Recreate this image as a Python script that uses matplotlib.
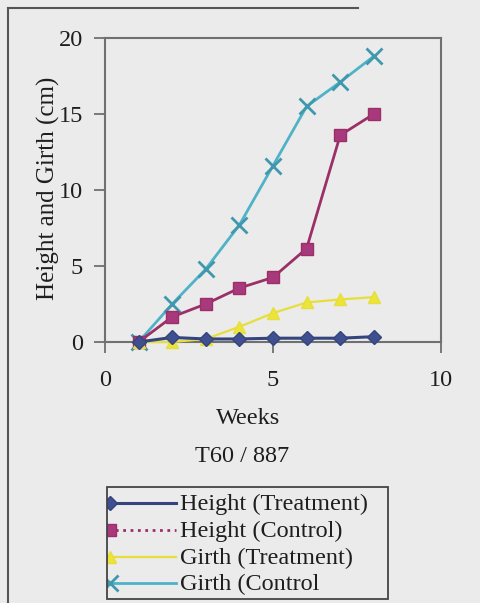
import matplotlib.pyplot as plt
from matplotlib.patches import Rectangle
from matplotlib.lines import Line2D

plt.rcParams['font.family'] = ['Liberation Serif', 'DejaVu Serif']

weeks = [1, 2, 3, 4, 5, 6, 7, 8]
height_treatment = [0, 0.3, 0.2, 0.2, 0.25, 0.25, 0.25, 0.35]
height_control = [0, 1.65, 2.5, 3.55, 4.25, 6.15, 13.6, 15.0]
girth_treatment = [0, 0, 0.2, 1.0, 1.9, 2.6, 2.8, 2.95]
girth_control = [0, 2.5, 4.8, 7.7, 11.6, 15.5, 17.1, 18.8]

series_names = ['Height (Treatment)', 'Height (Control)', 'Girth (Treatment)', 'Girth (Control']

bg = '#ebebeb'
txt = '#1e1e1e'
fs = 17.5

styles = [
    dict(color='#34457e', marker='D', ms=7, mfc='#3e5090', mec='#34457e', lw=2.2),
    dict(color='#9a3067', marker='s', ms=9, mfc='#a8397c', mec='#9a3067', lw=2),
    dict(color='#e6df3a', marker='^', ms=8, mfc='#ece43a', mec='#e6df3a', lw=1.6),
    dict(color='#4fb2c6', marker='x', ms=11, mew=2, mec='#3f98ae', lw=2),
]

fig = plt.figure(figsize=(4.81, 6.03), dpi=100, facecolor=bg)
ax = fig.add_axes([105/481, 1 - 342/603, (441 - 105)/481, (342 - 38)/603])
ax.set_facecolor(bg)

all_series = [height_treatment, height_control, girth_treatment, girth_control]
order = [3, 1, 2, 0]
for i in order:
    ax.plot(weeks, all_series[i], zorder=3 + (i == 0), clip_on=False, **styles[i])

ax.set_xlim(0, 10)
ax.set_ylim(0, 20)
ax.set_xticks([0, 5, 10])
ax.set_yticks([0, 5, 10, 15, 20])
ax.tick_params(direction='out', length=8, width=1.3, color='#707070',
               labelsize=fs, labelcolor=txt, pad=8)
ax.tick_params(axis='x', pad=12)
for s in ax.spines.values():
    s.set_color('#707070')
    s.set_linewidth(1.5)

# axis titles and caption sit slightly left of the plot centre
fig.text(48/481, 1 - 188/603, 'Height and Girth (cm)', rotation=90,
         ha='center', va='center', fontsize=fs + 0.5, color=txt)
fig.text(248/481, 1 - 418/603, 'Weeks', ha='center', va='center', fontsize=fs, color=txt)
fig.text(242/481, 1 - 457/603, 'T60 / 887', ha='center', va='center', fontsize=fs, color=txt)

# overlay in pixel coordinates for the frame and the legend box
ov = fig.add_axes([0, 0, 1, 1], facecolor='none')
ov.set_xlim(0, 481)
ov.set_ylim(603, 0)
ov.axis('off')
ov.plot([8, 8], [8, 603], color='#555555', lw=1.5)
ov.plot([8, 358], [8, 8], color='#555555', lw=1.5)

box = Rectangle((107, 487), 281, 112, fill=False, ec='#444444', lw=1.3, zorder=5)
ov.add_patch(box)
legend_y = [503, 530, 557, 583]
for i, y in enumerate(legend_y):
    st = dict(styles[i])
    ls = ':' if i == 1 else '-'
    ov.add_line(Line2D([108, 176], [y, y], ls=ls, color=st['color'], lw=st['lw']))
    st.pop('lw')
    col = st.pop('color')
    mk = Line2D([110], [y], ls='none', color=col, **st)
    ov.add_line(mk)
    mk.set_clip_path(box)
    ov.text(180, y + 1, series_names[i], ha='left', va='center', fontsize=fs, color=txt)

fig.savefig('out.png', dpi=100, facecolor=bg)
